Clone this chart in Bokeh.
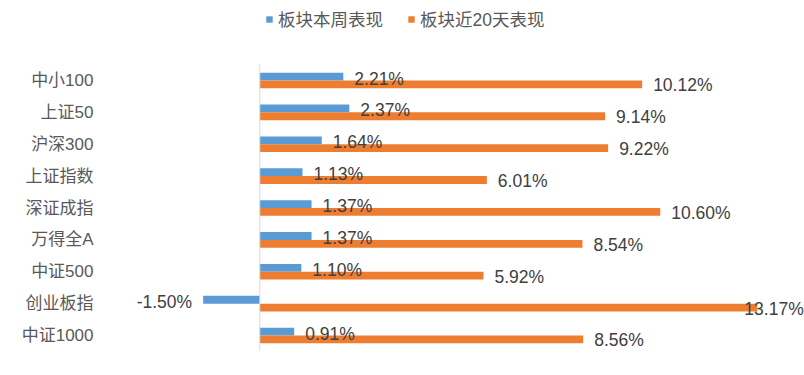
from bokeh.plotting import figure
from bokeh.models import ColumnDataSource, Legend, LegendItem, FixedTicker
from bokeh.core.properties import value
from bokeh.embed import file_html
from bokeh.resources import INLINE

categories = ["中小100", "上证50", "沪深300", "上证指数", "深证成指", "万得全A", "中证500", "创业板指", "中证1000"]
week_vals = [2.21, 2.37, 1.64, 1.13, 1.37, 1.37, 1.10, -1.50, 0.91]
d20_vals = [10.12, 9.14, 9.22, 6.01, 10.60, 8.54, 5.92, 13.17, 8.56]
series_names = ["板块本周表现", "板块近20天表现"]

BLUE = "#5B9BD5"
ORANGE = "#ED7D31"
FONT = "Liberation Sans, Noto Sans CJK SC"

n = len(categories)
top_space = 2.007  # room above the bars for the legend (in row units)

p = figure(width=804, height=367, x_range=(-4.217, 14.418), y_range=(0, n + top_space),
           output_backend="svg", toolbar_location=None,
           min_border_left=100, min_border_right=0, min_border_top=0, min_border_bottom=16)
p.outline_line_color = None
p.grid.visible = False
p.xaxis.visible = False

centers = [n - i - 0.5 for i in range(n)]
p.yaxis.ticker = FixedTicker(ticks=centers)
p.yaxis.major_label_overrides = {c: name for c, name in zip(centers, categories)}
p.yaxis.axis_line_color = None
p.yaxis.major_tick_line_color = None
p.yaxis.minor_tick_line_color = None
p.yaxis.major_tick_in = 0
p.yaxis.major_tick_out = 0
p.yaxis.major_label_standoff = 7
p.yaxis.major_label_text_font = FONT
p.yaxis.major_label_text_font_size = "17px"
p.yaxis.major_label_text_color = "#595959"

def lab_props(vals):
    txt, xo, al = [], [], []
    for v in vals:
        txt.append(f"{v:.2f}%")
        if v < 0:
            xo.append(-11); al.append("right")
        elif v > 12.5:
            xo.append(-13); al.append("left")
        else:
            xo.append(11); al.append("left")
    return txt, xo, al

bh = 0.245
wt, wxo, wal = lab_props(week_vals)
dt, dxo, dal = lab_props(d20_vals)
src = ColumnDataSource(dict(cat=categories, week=week_vals, d20=d20_vals,
                            yw=[c + bh / 2 for c in centers], yd=[c - bh / 2 for c in centers],
                            wt=wt, wxo=wxo, wal=wal, dt=dt, dxo=dxo, dal=dal))

r1 = p.hbar(y="yw", left=0, right="week", height=bh, source=src, fill_color=BLUE, line_color=None)
r2 = p.hbar(y="yd", left=0, right="d20", height=bh, source=src, fill_color=ORANGE, line_color=None)

# vertical category axis line at zero
p.segment(x0=[0], y0=[0], x1=[0], y1=[n], line_color="#D9D9D9", line_width=1)

for ycol, xcol, col, xo, al, yo in [("yw", "week", "wt", "wxo", "wal", 2), ("yd", "d20", "dt", "dxo", "dal", 1)]:
    p.text(x=xcol, y=ycol, text=col, source=src,
           x_offset=xo, y_offset=yo, text_align=al, text_baseline="middle",
           text_font=value(FONT), text_font_size="17.5px", text_color="#404040")

legend = Legend(items=[LegendItem(label=series_names[0], renderers=[r1]),
                       LegendItem(label=series_names[1], renderers=[r2])],
                orientation="horizontal", location=(165, 320),
                border_line_color=None, background_fill_alpha=0,
                padding=0, margin=0, spacing=24, label_standoff=5,
                glyph_width=8, glyph_height=8,
                label_text_font=FONT, label_text_font_size="17.5px",
                label_text_color="#595959")
p.add_layout(legend, "center")

open("out.html", "w").write(file_html(p, INLINE))
